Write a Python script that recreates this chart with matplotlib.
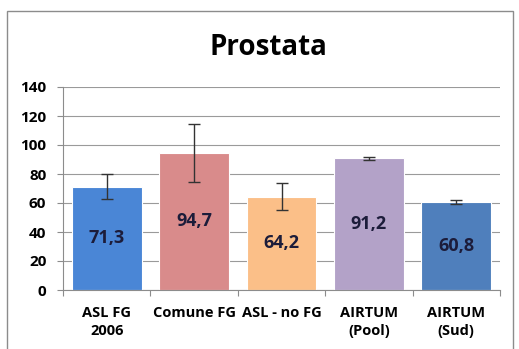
import numpy as np
import matplotlib
matplotlib.use("Agg")
import matplotlib.pyplot as plt
from matplotlib.patches import Rectangle

# data
categories = ["ASL FG\n2006", "Comune FG", "ASL - no FG", "AIRTUM\n(Pool)", "AIRTUM\n(Sud)"]
values = [71.3, 94.7, 64.2, 91.2, 60.8]
err_low = [63.0, 74.3, 55.0, 89.8, 59.6]
err_high = [80.1, 114.4, 73.6, 92.0, 62.2]
value_labels = ["71,3", "94,7", "64,2", "91,2", "60,8"]
colors = ["#4a86d6", "#d98b8b", "#fbbf88", "#b3a2c8", "#4f7fbc"]
yticks = [0, 20, 40, 60, 80, 100, 120, 140]

plt.rcParams['font.family'] = ['Open Sans', 'DejaVu Sans']

fig = plt.figure(figsize=(5.19, 3.49), dpi=100)
# light frame around the chart area
fig.patches.append(Rectangle((7 / 519, -0.01), 506 / 519, 1 - 11 / 349 + 0.01,
                             transform=fig.transFigure, fill=False,
                             edgecolor="#8c8c8c", linewidth=1.0))

ax = fig.add_axes([63 / 519, 1 - 290 / 349, 437 / 519, 203 / 349])
x = np.arange(len(categories))
vals = np.array(values)
lo = vals - np.array(err_low)
hi = np.array(err_high) - vals

ax.bar(x, vals, width=0.8, color=colors, edgecolor="white", linewidth=0.8, zorder=2)
ax.errorbar(x, vals, yerr=[lo, hi], fmt="none", ecolor="#333333",
            elinewidth=1.0, capsize=4, capthick=1.0, zorder=3)

for xi, v, lab in zip(x, vals, value_labels):
    ax.text(xi, v / 2, lab, ha="center", va="center", fontsize=13,
            fontweight="bold", color="#1c1c3a", zorder=4)

ax.set_xlim(-0.5, len(categories) - 0.5)
ax.set_ylim(0, 140)
ax.set_yticks(yticks)
ax.set_yticklabels([str(t) for t in yticks], fontsize=11, fontweight="bold")
ax.yaxis.grid(True, color="#9a9a9a", linewidth=0.8, zorder=0)
ax.set_axisbelow(True)

# category labels between boundary ticks, like a spreadsheet chart
ax.set_xticks(np.arange(len(categories) + 1) - 0.5)
ax.set_xticklabels([])
ax.tick_params(axis="x", length=4, color="#8c8c8c")
ax.tick_params(axis="y", length=4, color="#8c8c8c", pad=8)
for xi, lab in zip(x, categories):
    ax.text(xi, -11, lab, ha="center", va="top", fontsize=10.5, fontweight="bold",
            linespacing=1.4, transform=ax.transData)

for s in ["top", "right"]:
    ax.spines[s].set_visible(False)
for s in ["left", "bottom"]:
    ax.spines[s].set_color("#8c8c8c")

fig.text(268 / 519, 1 - 55 / 349, "Prostata", ha="center", va="baseline",
         fontsize=20, fontweight="bold")

fig.savefig("out.png", dpi=100)
